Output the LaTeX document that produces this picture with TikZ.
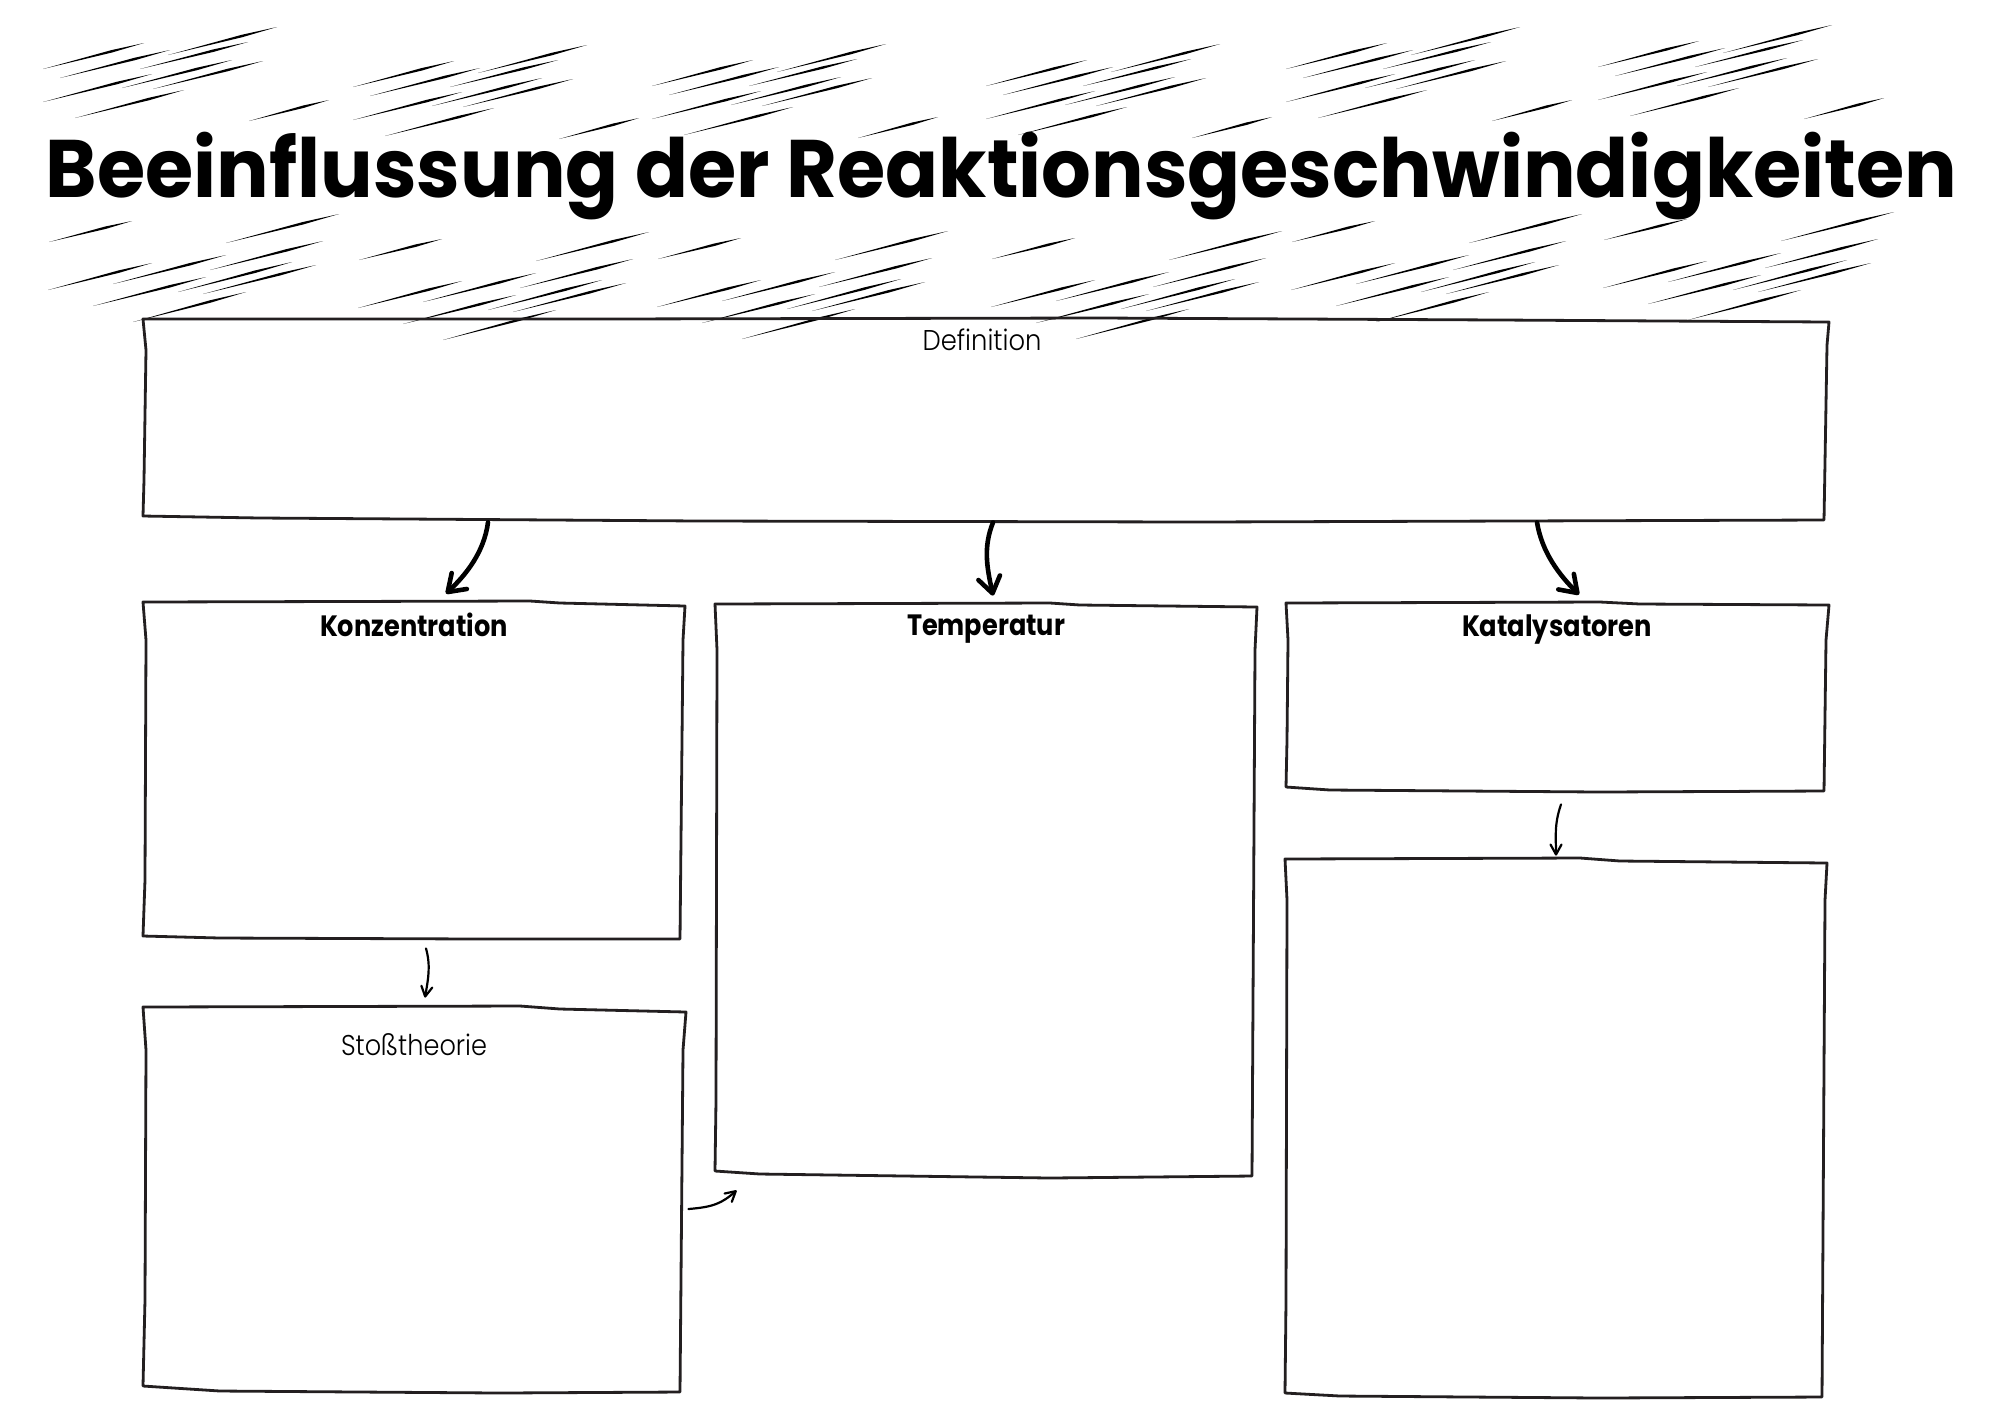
\documentclass[tikz,border=0pt]{standalone}
\usepackage{fontspec}
\setmainfont{Poppins}
\newfontfamily\poplight{Poppins Light}
\usetikzlibrary{calc,fit,arrows.meta}
\definecolor{ink}{RGB}{35,31,32}
\newcommand\fitw[2]{\resizebox{#1}{\height}{#2}}
\newcommand\hl[4]{\fill[hatch] (#1,#2) -- ($(#1,#2)!0.68!(#3,#4)!0.62pt!90:(#3,#4)$) -- (#3,#4) -- ($(#1,#2)!0.68!(#3,#4)!0.62pt!-90:(#3,#4)$) -- cycle;}
\newcommand\hatchtile{%
\hl{-234}{42}{-133}{16}
\hl{-217}{51}{-107}{23}
\hl{-109}{28}{0}{0}
\hl{-137}{42}{-29}{15}
\hl{-234}{75}{-125}{47}
\hl{-155}{61}{-45}{33}
\hl{-124}{62}{-14}{34}
\hl{-202}{91}{-93}{63}
\hl{-28}{94}{52}{73}
\hl{-51}{216}{62}{187}
\hl{-67}{243}{46}{214}
\hl{-229}{263}{-125}{236}
\hl{-164}{257}{-51}{228}
\hl{-99}{265}{15}{235}
\hl{-184}{279}{-71}{250}
\hl{-74}{267}{39}{238}
\hl{-144}{295}{-31}{265}
\hl{-228}{215}{-145}{194}}
\tikzset{
 boxline/.style={draw=ink, line width=1.4pt, line join=round, line cap=round},
 boxn/.style={inner sep=0pt, draw=none},
 bigarrow/.style={draw=black, line width=2.3pt, line cap=round, -{Straight Barb[length=8pt,width=11pt,round]}},
 smallarrow/.style={draw=black, line width=1.1pt, line cap=round, -{Straight Barb[length=5pt,width=5.5pt,round]}},
 hatch/.style={fill=black},
 lab/.style={anchor=base, inner sep=0pt, text=black},
}
\begin{document}
\begin{tikzpicture}[x=0.5pt,y=-0.5pt]
\useasboundingbox (0,0) rectangle (2000,1415);
\fill[white] (0,0) rectangle (2000,1415);
% hatching
\foreach \ax/\ay in {277/27, 587/45, 886/44, 1220/44, 1520/27, 1832/25}{
  \begin{scope}[shift={(\ax,\ay)}]\hatchtile\end{scope}
}
% title
\node[lab] (title) at (1001.5,197) {\fitw{955.5pt}{\bfseries\fontsize{40.8pt}{44pt}\selectfont Beeinflussung der Reaktionsgeschwindigkeiten}};
% box nodes
\node[boxn, fit={(143,319)(1829,521)}] (def) {};
\node[boxn, fit={(143,602)(686,939)}] (konz) {};
\node[boxn, fit={(143,1007)(686,1392)}] (stoss) {};
\node[boxn, fit={(715,604)(1257,1176)}] (temp) {};
\node[boxn, fit={(1285,603)(1829,791)}] (kat) {};
\node[boxn, fit={(1285,859)(1827,1397)}] (low) {};
% outlines (slightly hand-drawn)
\draw[boxline] (143,319) -- (600,319) -- (1100,318) -- (1500,320) -- (1829,322) -- (1827,345) -- (1824,520) -- (1200,522) -- (700,521) -- (260,518) -- (143,516) -- (144,480) -- (146,350) -- cycle;
\draw[boxline] (143,602) -- (530,601) -- (560,603) -- (685,606) -- (683,640) -- (680,939) -- (480,939) -- (220,938) -- (143,936) -- (145,880) -- (146,640) -- cycle;
\draw[boxline] (143,1007) -- (520,1006) -- (560,1009) -- (686,1012) -- (683,1050) -- (680,1392) -- (500,1393) -- (220,1391) -- (143,1386) -- (145,1300) -- (146,1050) -- cycle;
\draw[boxline] (715,604) -- (1050,603) -- (1080,605) -- (1257,607) -- (1255,650) -- (1252,1176) -- (1050,1178) -- (760,1174) -- (715,1171) -- (716,1100) -- (717,650) -- cycle;
\draw[boxline] (1286,603) -- (1600,602) -- (1640,604) -- (1829,605) -- (1826,640) -- (1824,791) -- (1600,792) -- (1330,790) -- (1286,787) -- (1287,740) -- (1288,640) -- cycle;
\draw[boxline] (1285,859) -- (1580,858) -- (1620,861) -- (1827,863) -- (1825,900) -- (1822,1397) -- (1600,1398) -- (1340,1396) -- (1285,1393) -- (1286,1300) -- (1287,900) -- cycle;
% labels
\node[lab] (deflab) at (982,350) {\fitw{59.5pt}{\poplight\fontsize{14.3pt}{16pt}\selectfont Definition}};
\node[lab] (konzlab) at (414,636) {\fitw{94pt}{\bfseries\fontsize{14.7pt}{16pt}\selectfont Konzentration}};
\node[lab] (templab) at (986,635) {\fitw{79pt}{\bfseries\fontsize{14.7pt}{16pt}\selectfont Temperatur}};
\node[lab] (katlab) at (1557,636) {\fitw{95pt}{\bfseries\fontsize{14.7pt}{16pt}\selectfont Katalysatoren}};
\node[lab] (stosslab) at (414,1055) {\fitw{73pt}{\poplight\fontsize{14.3pt}{16pt}\selectfont Stoßtheorie}};
% connectors
\draw[bigarrow] ($(def.south)+(-498,1)$) .. controls +(-4,30) and +(20,-19) .. ($(konz.north)+(31.5,-8)$);
\draw[bigarrow] ($(def.south)+(7,1)$) .. controls +(-10,25) and +(-6,-28) .. ($(temp.north)+(7,-8)$);
\draw[bigarrow] ($(def.south)+(551,1)$) .. controls +(5,30) and +(-20,-20) .. ($(kat.north)+(22,-8)$);
\draw[smallarrow] ($(konz.south)+(11.5,9)$) .. controls +(5,18) and +(3,-18) .. ($(stoss.north)+(10.5,-9)$);
\draw[smallarrow] ($(stoss.east)+(2,9.5)$) .. controls +(25,-2) and +(-15,13) .. ($(temp.south west)+(22,14)$);
\draw[smallarrow] ($(kat.south)+(4,13)$) .. controls +(-7,20) and +(0,-18) .. ($(low.north)+(0,-3)$);
\end{tikzpicture}
\end{document}
